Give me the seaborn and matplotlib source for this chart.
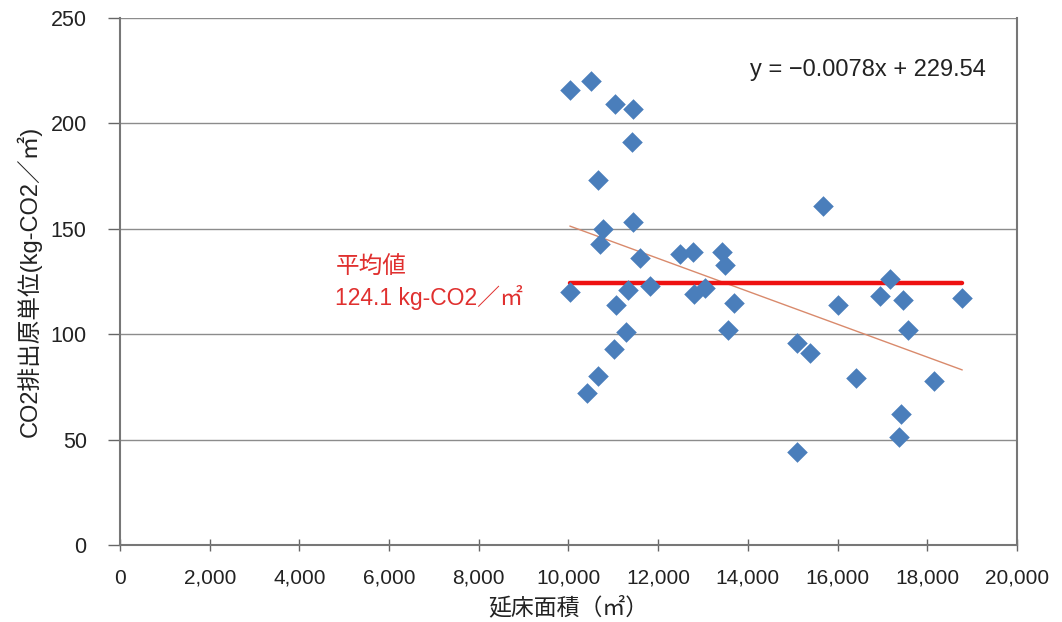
import matplotlib.pyplot as plt
import pandas as pd
import seaborn as sns

# data
floor_area = [10030, 10500, 11040, 11440, 11420, 10660, 10770, 11440, 10700, 11600,
              12490, 12780, 13430, 13490, 10030, 11320, 11820, 12800, 13040, 11060,
              11280, 11010, 10660, 10420, 13690, 13560, 15670, 15090, 15380, 16010,
              16410, 15090, 17170, 16950, 17460, 17570, 18780, 18150, 17410, 17370]
co2_unit = [216, 220, 209, 207, 191, 173, 150, 153, 143, 136,
            138, 139, 139, 133, 120, 121, 123, 119, 122, 114,
            101, 93, 80, 72, 115, 102, 161, 96, 91, 114,
            79, 44, 126, 118, 116, 102, 117, 78, 62, 51]
mean_value = 124.1
slope = -0.0078
intercept = 229.54
x_ticks = list(range(0, 20001, 2000))
y_ticks = list(range(0, 251, 50))

df = pd.DataFrame({'area': floor_area, 'co2': co2_unit})

sns.set_style("white")
plt.rcParams['font.family'] = ['Liberation Sans', 'Noto Sans CJK JP', 'DejaVu Sans']

fig = plt.figure(figsize=(10.62, 6.22), dpi=100)
ax = fig.add_axes([0.113, 0.1238, 0.8446, 0.8472])

ax.set_axisbelow(True)
ax.yaxis.grid(True, color='#8c8c8c', linewidth=1)

# trend line and mean line across data range
x0, x1 = df['area'].min(), df['area'].max()
ax.plot([x0, x1], [slope * x0 + intercept, slope * x1 + intercept],
        color='#d98a6c', linewidth=1, zorder=2)
ax.plot([x0, x1], [mean_value, mean_value], color='#ee1111', linewidth=3.2, zorder=2)

sns.scatterplot(data=df, x='area', y='co2', marker='D', s=110, color='#4a7ebb',
                edgecolor='#4a7ebb', linewidth=0, ax=ax, zorder=3)

ax.set_xlim(0, 20000)
ax.set_ylim(0, 250)
ax.set_xticks(x_ticks)
ax.set_xticklabels([f"{v:,}" for v in x_ticks])
ax.set_yticks(y_ticks)
ax.tick_params(axis='x', direction='inout', length=8, width=1, color='#666666',
               labelsize=15, pad=13, labelcolor='#222222')
ax.tick_params(axis='y', direction='out', length=9, width=1, color='#666666',
               labelsize=15.5, pad=15, labelcolor='#222222')
ax.tick_params(left=True, bottom=True)

for side in ['left', 'bottom', 'right']:
    ax.spines[side].set_color('#777777')
    ax.spines[side].set_linewidth(1.5)
ax.spines['top'].set_visible(False)

ax.set_xlabel("延床面積（㎡）", fontsize=16.5, labelpad=6, color='#222222')
ax.set_ylabel("CO2排出原単位(kg-CO2／㎡)", fontsize=17, labelpad=6, color='#222222')

ax.text(4800, 131.4, "平均値", color='#e0302f', fontsize=17, va='center')
ax.text(4800, 117.2, f"{mean_value} kg-CO2／㎡", color='#e0302f', fontsize=16.5, va='center')
ax.text(14050, 225.3, f"y = \u2212{abs(slope)}x + {intercept}", color='#222222',
        fontsize=17, va='center')

plt.savefig('out.png', dpi=100)
